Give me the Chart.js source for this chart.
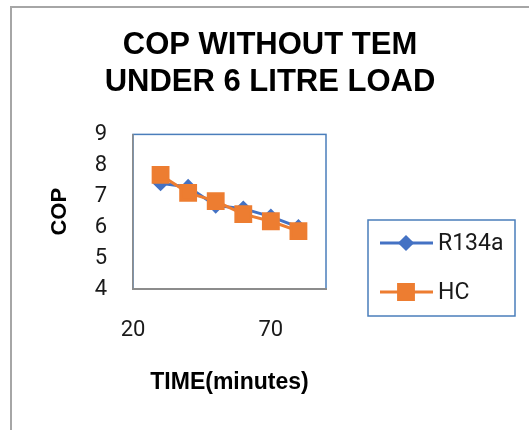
<!DOCTYPE html>
<html>
<head>
<meta charset="utf-8">
<script src="https://cdn.jsdelivr.net/npm/chart.js@4/dist/chart.umd.min.js"></script>
<style>
  body { margin: 0; background: #fff; }
  .frame { position: absolute; left: 10px; top: 6px; width: 600px; height: 500px; border: 2px solid #a6a6a6; }
  #wrap { position: absolute; left: 0; top: 0; width: 529px; height: 430px; }
</style>
</head>
<body>
<div class="frame"></div>
<div id="wrap"><canvas id="copChart" width="529" height="430"></canvas></div>
<script>
// data
const timeMinutes = [30, 40, 50, 60, 70, 80];
const r134aCop = [7.42, 7.3, 6.7, 6.6, 6.34, 6.0];
const hcCop = [7.69, 7.11, 6.84, 6.42, 6.19, 5.87];
const xTicks = [20, 70];
const yTicks = [4, 5, 6, 7, 8, 9];
const titleLines = ["COP WITHOUT TEM", "UNDER 6 LITRE LOAD"];

const toPoints = (xs, ys) => xs.map((x, i) => ({ x: x, y: ys[i] }));

// blue box round the plot area
const plotBox = {
  id: "plotBox",
  beforeDraw(chart) {
    const { ctx, chartArea: a } = chart;
    ctx.save();
    ctx.strokeStyle = "#4a7ebb";
    ctx.lineWidth = 1.5;
    ctx.strokeRect(a.left, a.top, a.right - a.left, a.bottom - a.top);
    ctx.restore();
  },
};

// legend with a border, like the excel one
const boxLegend = {
  id: "boxLegend",
  afterDraw(chart) {
    const ctx = chart.ctx;
    const x = 368, y = 220, w = 147, h = 96;
    ctx.save();
    ctx.strokeStyle = "#4a7ebb";
    ctx.lineWidth = 1.5;
    ctx.strokeRect(x, y, w, h);
    chart.data.datasets.forEach((ds, i) => {
      const cy = 243 + i * 49;
      ctx.strokeStyle = ds.borderColor;
      ctx.lineWidth = 3;
      ctx.beginPath();
      ctx.moveTo(380, cy);
      ctx.lineTo(433, cy);
      ctx.stroke();
      Chart.helpers.drawPoint(ctx, {
        pointStyle: ds.pointStyle,
        radius: ds.pointRadius,
        borderWidth: 1,
      }, 406, cy);
      ctx.fillStyle = ds.backgroundColor;
      ctx.fill();
      ctx.fillStyle = "#1a1a1a";
      ctx.font = "23px Roboto";
      ctx.textBaseline = "middle";
      ctx.fillText(ds.label, 438, cy + 1);
    });
    ctx.restore();
  },
};

new Chart(document.getElementById("copChart"), {
  type: "line",
  data: {
    datasets: [
      {
        label: "R134a",
        data: toPoints(timeMinutes, r134aCop),
        borderColor: "#4472c4",
        backgroundColor: "#4472c4",
        borderWidth: 3,
        pointStyle: "rectRot",
        pointRadius: 6,
        order: 1,
      },
      {
        label: "HC",
        data: toPoints(timeMinutes, hcCop),
        borderColor: "#ed7d31",
        backgroundColor: "#ed7d31",
        borderWidth: 3,
        pointStyle: "rect",
        pointRadius: 10.5,
        order: 0,
      },
    ],
  },
  options: {
    responsive: false,
    animation: false,
    layout: { padding: { left: 11, top: 0, right: 0, bottom: 0 } },
    plugins: {
      legend: { display: false },
      tooltip: { enabled: false },
      title: {
        display: true,
        text: titleLines,
        color: "#000",
        font: { family: "'Liberation Sans', Arial", size: 31, weight: "bold", lineHeight: 1.2 },
        padding: { top: 27, bottom: 33 },
      },
    },
    scales: {
      x: {
        type: "linear",
        min: 20,
        max: 90,
        afterBuildTicks: (s) => { s.ticks = xTicks.map((v) => ({ value: v })); },
        afterFit: (s) => { s.height = 141; },
        grid: { display: false, drawTicks: false },
        border: { display: true, color: "#8c8c8c", width: 2 },
        ticks: { color: "#1a1a1a", padding: 28, font: { family: "Roboto", size: 22 } },
        title: {
          display: true,
          text: "TIME(minutes)",
          color: "#000",
          font: { family: "'Liberation Sans', Arial", size: 23, weight: "bold", lineHeight: 1.2 },
          padding: { top: 4, bottom: 34 },
        },
      },
      y: {
        min: 4,
        max: 9,
        afterBuildTicks: (s) => { s.ticks = yTicks.map((v) => ({ value: v })); },
        afterFit: (s) => { s.width = 122; },
        grid: { display: false, drawTicks: false },
        border: { display: true, color: "#8c8c8c", width: 1.5 },
        ticks: { color: "#1a1a1a", padding: 26, font: { family: "Roboto", size: 22 } },
        title: {
          display: true,
          text: "COP",
          color: "#000",
          font: { family: "'Liberation Sans', Arial", size: 22, weight: "bold", lineHeight: 1.2 },
          padding: { top: 36, bottom: 0 },
        },
      },
      // empty space on the right that holds the legend
      legendSpace: {
        type: "linear",
        position: "right",
        display: false,
        afterFit: (s) => { s.width = 203; },
      },
    },
  },
  plugins: [plotBox, boxLegend],
});
</script>
</body>
</html>
